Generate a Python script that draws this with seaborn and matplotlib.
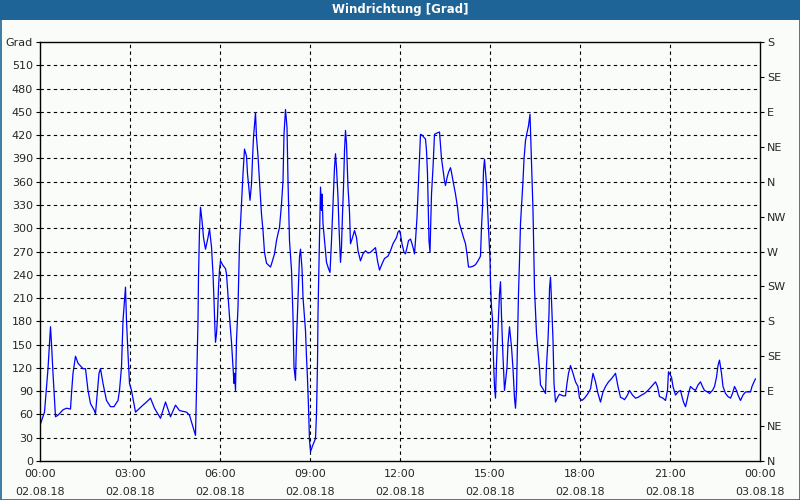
import matplotlib
matplotlib.use("Agg")
import matplotlib.pyplot as plt
import seaborn as sns
import pandas as pd
from matplotlib.patches import Rectangle
from matplotlib.ticker import MultipleLocator

# minutes since 02.08.18 00:00
minutes = [0, 9, 13, 16, 18, 21, 23, 26, 29, 31, 36, 46, 53, 61, 63, 66, 71, 76, 86, 91,
           96, 101, 108, 111, 115, 118, 121, 126, 133, 141, 148, 156, 159, 163, 166, 171, 173, 176, 179, 183,
           191, 206, 213, 221, 229, 241, 251, 261, 271, 279, 293, 299, 306, 311, 314, 316, 317, 319, 321, 324,
           327, 331, 336, 339, 343, 346, 348, 350, 351, 353, 355, 357, 359, 361, 366, 371, 373, 376, 379, 383,
           386, 388, 389, 391, 393, 396, 399, 403, 406, 409, 413, 415, 417, 420, 423, 425, 427, 431, 433, 436,
           439, 443, 446, 449, 453, 456, 461, 464, 469, 473, 476, 479, 483, 486, 488, 491, 494, 496, 499, 503,
           506, 508, 511, 513, 516, 519, 521, 524, 526, 531, 533, 535, 537, 539, 541, 546, 551, 553, 555, 556,
           558, 560, 561, 563, 564, 566, 569, 573, 577, 580, 583, 586, 589, 591, 593, 596, 598, 601, 603, 605,
           607, 609, 611, 613, 616, 619, 621, 625, 629, 633, 636, 641, 646, 651, 656, 661, 666, 671, 675, 679,
           684, 689, 696, 701, 706, 713, 716, 719, 721, 724, 728, 731, 734, 737, 741, 744, 747, 749, 751, 754,
           756, 758, 761, 764, 768, 771, 773, 775, 776, 778, 780, 783, 786, 789, 795, 799, 803, 809, 811, 814,
           817, 821, 823, 826, 831, 835, 838, 843, 847, 851, 854, 857, 861, 866, 871, 876, 881, 883, 885, 887,
           889, 893, 895, 897, 898, 900, 901, 903, 905, 907, 909, 911, 913, 915, 917, 919, 921, 923, 926, 929,
           931, 934, 936, 939, 943, 946, 949, 951, 953, 955, 957, 959, 961, 964, 966, 968, 971, 974, 977, 980,
           983, 986, 989, 993, 996, 999, 1001, 1006, 1011, 1013, 1016, 1018, 1019, 1021, 1023, 1026, 1028, 1031, 1036, 1039,
           1046, 1051, 1054, 1057, 1061, 1066, 1071, 1076, 1079, 1084, 1089, 1096, 1101, 1106, 1111, 1116, 1121, 1126, 1131, 1137,
           1143, 1151, 1156, 1161, 1165, 1169, 1175, 1179, 1185, 1191, 1196, 1203, 1209, 1216, 1223, 1231, 1235, 1239, 1246, 1251,
           1255, 1257, 1263, 1266, 1271, 1276, 1281, 1284, 1287, 1291, 1294, 1297, 1301, 1306, 1311, 1316, 1321, 1325, 1329, 1335,
           1339, 1345, 1349, 1353, 1356, 1359, 1363, 1366, 1371, 1376, 1381, 1385, 1389, 1393, 1396, 1401, 1406, 1411, 1416, 1421,
           1424, 1428, 1431]

direction = [46, 63, 96, 119, 141, 173, 151, 113, 78, 57, 59, 66, 68, 67, 87, 113, 135, 126, 119, 119,
             91, 74, 66, 61, 91, 113, 119, 100, 78, 70, 70, 78, 91, 121, 181, 224, 181, 138, 100, 91,
             63, 72, 76, 81, 68, 55, 76, 57, 72, 65, 63, 59, 44, 33, 121, 181, 237, 297, 327, 310,
             288, 273, 288, 299, 276, 241, 207, 168, 153, 164, 186, 224, 246, 258, 252, 248, 241, 213, 186, 153,
             121, 100, 113, 91, 156, 198, 280, 331, 370, 402, 393, 370, 357, 336, 357, 389, 417, 449, 417, 393,
             361, 318, 297, 269, 255, 253, 250, 256, 267, 284, 293, 301, 331, 361, 421, 453, 430, 361, 284, 246,
             186, 121, 104, 156, 211, 263, 273, 248, 211, 168, 134, 106, 70, 27, 12, 21, 29, 61, 126, 190,
             254, 318, 353, 323, 344, 306, 284, 256, 248, 243, 284, 331, 378, 396, 378, 340, 301, 256, 276, 318,
             353, 400, 426, 409, 353, 321, 280, 288, 297, 288, 271, 258, 267, 271, 268, 269, 272, 275, 258, 246,
             254, 261, 264, 271, 280, 288, 295, 297, 292, 280, 269, 267, 275, 284, 286, 280, 273, 267, 284, 314,
             344, 374, 421, 420, 417, 415, 400, 370, 340, 284, 269, 344, 378, 421, 423, 424, 390, 361, 355, 365,
             372, 378, 372, 361, 344, 327, 308, 297, 288, 280, 267, 250, 250, 251, 253, 258, 264, 301, 327, 374,
             389, 357, 327, 300, 287, 261, 229, 198, 183, 130, 96, 81, 126, 156, 186, 216, 231, 187, 134, 91,
             102, 121, 151, 173, 147, 119, 81, 68, 91, 156, 216, 258, 306, 340, 361, 389, 413, 423, 432, 447,
             383, 323, 222, 164, 142, 119, 98, 93, 87, 123, 156, 190, 222, 237, 207, 156, 100, 76, 83, 86,
             84, 84, 100, 113, 123, 113, 102, 96, 81, 78, 81, 87, 93, 113, 102, 87, 76, 89, 96, 102,
             106, 113, 96, 82, 81, 79, 85, 91, 85, 81, 82, 85, 87, 91, 96, 102, 96, 83, 81, 78,
             91, 115, 108, 96, 85, 89, 91, 83, 76, 70, 78, 87, 96, 93, 91, 98, 102, 96, 91, 89,
             87, 91, 96, 108, 123, 130, 113, 96, 87, 83, 81, 87, 96, 91, 85, 78, 85, 89, 89, 89,
             96, 102, 106]

y_ticks = list(range(0, 511, 30))
compass_vals = list(range(0, 541, 45))
compass_labels = ["N", "NE", "E", "SE", "S", "SW", "W", "NW", "N", "NE", "E", "SE", "S"]
x_ticks = list(range(0, 1441, 180))
x_labels = ["00:00\n02.08.18", "03:00\n02.08.18", "06:00\n02.08.18", "09:00\n02.08.18",
            "12:00\n02.08.18", "15:00\n02.08.18", "18:00\n02.08.18", "21:00\n02.08.18",
            "00:00\n03.08.18"]
title = "Windrichtung [Grad]"

sns.set_style("white")
plt.rcParams["font.family"] = ["DejaVu Sans"]

bg = "#f9fcf9"
bar = "#1e6496"

fig = plt.figure(figsize=(8, 5), dpi=100, facecolor=bg)
fig.patches.append(Rectangle((0, 480 / 500), 1, 20 / 500, transform=fig.transFigure,
                             facecolor=bar, edgecolor="none", zorder=0))
fig.patches.append(Rectangle((0.5 / 800, 0.5 / 500), 799 / 800, 499 / 500, transform=fig.transFigure,
                             facecolor="none", edgecolor=bar, linewidth=1.2, zorder=5))
fig.text(0.5, 490 / 500, title, color="white", fontsize=8.5, fontweight="bold",
         ha="center", va="center")

ax = fig.add_axes([40 / 800, 39 / 500, 720 / 800, 419 / 500])
ax.set_facecolor(bg)

df = pd.DataFrame({"minutes": minutes, "direction": direction})
sns.lineplot(data=df, x="minutes", y="direction", ax=ax, color="#0000ff", linewidth=0.9,
             estimator=None, sort=False)

ax.set_xlim(0, 1440)
ax.set_ylim(0, 540)
ax.set_xlabel("")
ax.set_ylabel("")

ax.set_xticks(x_ticks)
ax.set_xticklabels(x_labels, fontsize=8, linespacing=2.0)
ax.xaxis.set_minor_locator(MultipleLocator(60))
ax.set_yticks(y_ticks + [540])
ax.set_yticklabels([str(v) for v in y_ticks] + ["Grad"], fontsize=8)

ax.tick_params(axis="x", which="major", direction="out", length=4, width=0.8, color="black", pad=1.5)
ax.tick_params(axis="x", which="minor", direction="out", length=3, width=0.8, color="black")
ax.tick_params(axis="y", direction="out", length=3, width=0.8, color="black", pad=2)

for s in ax.spines.values():
    s.set_color("black")
    s.set_linewidth(1.0)

for v in y_ticks[1:]:
    ax.axhline(v, color="black", linestyle=(0, (3, 3)), linewidth=0.8, zorder=0)
for t in x_ticks[1:-1]:
    ax.axvline(t, color="black", linestyle=(0, (3, 3)), linewidth=0.8, zorder=0)

ax2 = ax.twinx()
ax2.set_ylim(0, 540)
ax2.set_yticks(compass_vals)
ax2.set_yticklabels(compass_labels, fontsize=8)
ax2.tick_params(axis="y", direction="out", length=3, width=0.8, color="black", pad=2)
for s in ax2.spines.values():
    s.set_visible(False)

fig.savefig("out.png", dpi=100, facecolor=bg)
